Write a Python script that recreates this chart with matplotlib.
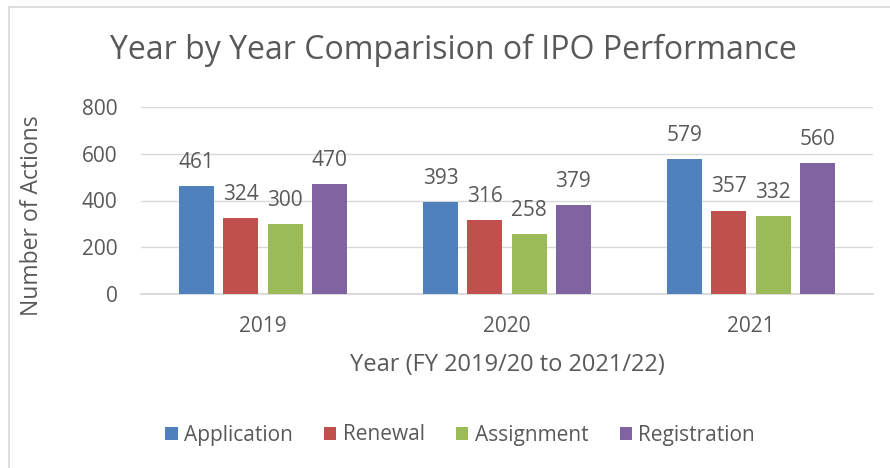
import numpy as np
import matplotlib
matplotlib.use('Agg')
import matplotlib.pyplot as plt
from matplotlib.lines import Line2D

years = ['2019', '2020', '2021']
series = ['Application', 'Renewal', 'Assignment', 'Registration']
application = [461, 393, 579]
renewal = [324, 316, 357]
assignment = [300, 258, 332]
registration = [470, 379, 560]
colors = ['#4F81BD', '#C0504D', '#9BBB59', '#8064A2']

plt.rcParams['font.family'] = ['Open Sans', 'DejaVu Sans']
txt = '#595959'

fig = plt.figure(figsize=(8.9, 4.68), dpi=100)
# plot area in pixels: x 141..873, y 107..294 (from top)
W, H = 890, 468
ax = fig.add_axes([141 / W, 1 - 294 / H, (873 - 141) / W, (294 - 107) / H])

x = np.arange(len(years))
width = 0.143
step = 0.181
values = [application, renewal, assignment, registration]
for i, (name, vals) in enumerate(zip(series, values)):
    pos = x + (i - 1.5) * step
    bars = ax.bar(pos, vals, width, color=colors[i], label=name, zorder=3)
    for b, v in zip(bars, vals):
        ax.annotate(str(v), (b.get_x() + b.get_width() / 2, v),
                    xytext=(0, 17), textcoords='offset points',
                    ha='center', va='center', fontsize=15, color=txt)

ax.set_xlim(-0.5, 2.5)
ax.set_ylim(0, 800)
ax.set_yticks([0, 200, 400, 600, 800])
ax.set_xticks(x)
ax.set_xticklabels(years)
ax.tick_params(axis='both', length=0, labelsize=15, labelcolor=txt)
ax.tick_params(axis='y', pad=17)
ax.tick_params(axis='x', pad=16)
ax.grid(axis='y', color='#D9D9D9', linewidth=1, zorder=0)
for s in ['top', 'right', 'left']:
    ax.spines[s].set_visible(False)
ax.spines['bottom'].set_color('#D9D9D9')
ax.spines['bottom'].set_linewidth(1.3)

ax.set_ylabel('Number of Actions', fontsize=16.5, color=txt)
ax.yaxis.set_label_coords(-0.149, 0.417)
ax.set_xlabel('Year (FY 2019/20 to 2021/22)', fontsize=17, color=txt)
ax.xaxis.set_label_coords(0.5, -0.38)
ax.xaxis.label.set_va('center')
ax.yaxis.label.set_va('center')

fig.text(453 / W, 1 - 50 / H, 'Year by Year Comparision of IPO Performance',
         ha='center', va='center', fontsize=23, color=txt)

ax.legend(loc='center', bbox_to_anchor=(460 / W, 1 - 435 / H),
          bbox_transform=fig.transFigure, ncol=4, frameon=False,
          fontsize=15, labelcolor=txt, handlelength=0.6, handleheight=0.6,
          handletextpad=0.3, columnspacing=1.5)

# chart border (left and top only visible in screenshot)
fig.add_artist(Line2D([8.5 / W, 8.5 / W], [0, 1 - 7 / H], color='#D9D9D9', lw=1.2))
fig.add_artist(Line2D([8.5 / W, 1], [1 - 7 / H, 1 - 7 / H], color='#D9D9D9', lw=1.2))

fig.savefig('out.png', dpi=100, facecolor='white')
